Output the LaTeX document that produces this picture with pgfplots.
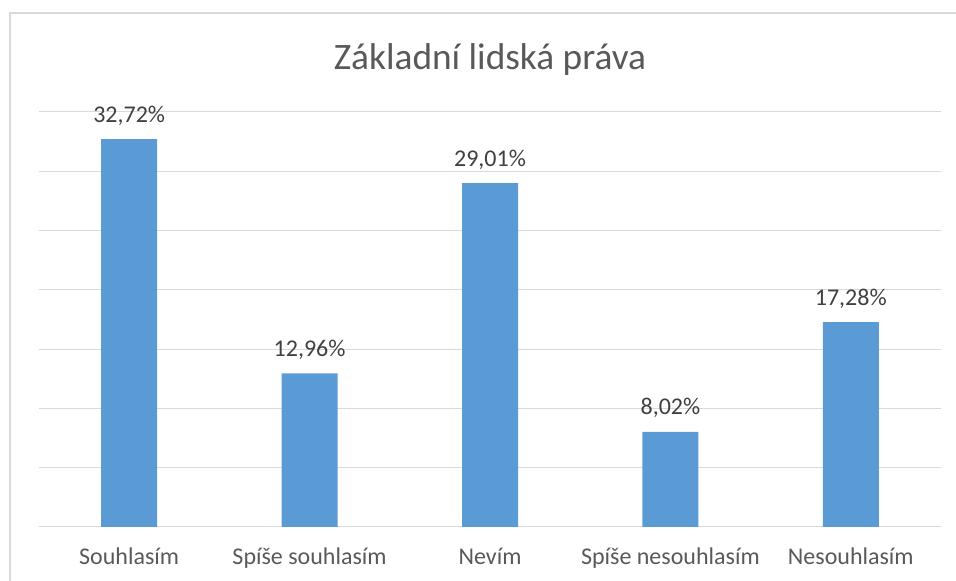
\documentclass[border=0pt]{standalone}
\usepackage{fontspec}
\setmainfont{Carlito}
\usepackage{pgfplots}
\pgfplotsset{compat=1.18}
\definecolor{barblue}{HTML}{5B9BD5}
\definecolor{gridgray}{HTML}{D9D9D9}
\definecolor{txtgray}{HTML}{595959}
\definecolor{lblgray}{HTML}{404040}
\begin{document}
\begin{tikzpicture}
\useasboundingbox (-29.25pt,-40.5pt) rectangle (687.75pt,395.25pt);
\draw[gridgray, line width=1.5pt] (-21.75pt,-60pt) -- (-21.75pt,385.5pt) -- (700pt,385.5pt);
\begin{axis}[
  scale only axis,
  width=676.5pt, height=311.25pt,
  at={(0,0)}, anchor=south west,
  ymin=0, ymax=35,
  xmin=-0.5, xmax=4.5,
  ytick={0,5,...,35},
  yticklabels={},
  ymajorgrids,
  grid style={gridgray, line width=0.75pt},
  axis x line*=bottom,
  axis y line*=left,
  y axis line style={draw=none},
  x axis line style={gridgray, line width=0.75pt, -},
  xtick=data,
  xticklabels={Souhlasím, Spíše souhlasím, Nevím, Spíše nesouhlasím, Nesouhlasím},
  major tick length=0pt,
  xticklabel style={font=\fontsize{18}{21}\selectfont, text=txtgray, anchor=base, yshift=-28.5pt},
  title={Základní lidská práva},
  title style={font=\fontsize{28}{33}\selectfont, text=txtgray, anchor=base, yshift=25.7pt},
  ybar,
  bar width=42pt,
  nodes near coords={\pgfmathprintnumber[fixed,fixed zerofill,precision=2,use comma,assume math mode=true]{\pgfplotspointmeta}\%},
  every node near coord/.append style={font=\fontsize{18}{21}\selectfont, text=lblgray, anchor=base, yshift=12.75pt},
  point meta=y,
]
\addplot[fill=barblue, draw=none] coordinates {(0,32.72) (1,12.96) (2,29.01) (3,8.02) (4,17.28)};
\end{axis}
\end{tikzpicture}
\end{document}
